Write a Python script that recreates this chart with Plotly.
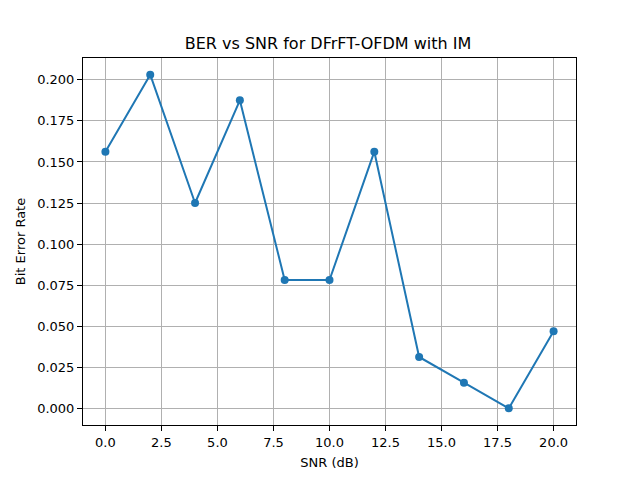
import numpy as np
import plotly.graph_objects as go

# data
snr_db = [0, 2, 4, 6, 8, 10, 12, 14, 16, 18, 20]
ber = [0.15625, 0.203125, 0.125, 0.1875, 0.078125, 0.078125,
       0.15625, 0.03125, 0.015625, 0.0, 0.046875]

x_ticks = list(np.arange(0, 20.01, 2.5))
y_ticks = list(np.arange(0, 0.2001, 0.025))

# page body has an 8px margin, so the figure is shrunk to fit the window
FIG_W, FIG_H = 624, 472


def make_figure():
    fig = go.Figure()
    fig.add_trace(
        go.Scatter(
            x=snr_db,
            y=ber,
            mode="lines+markers",
            line=dict(color="#1f77b4", width=2),
            marker=dict(color="#1f77b4", size=8),
            showlegend=False,
        )
    )

    # matplotlib-like 5% margins
    x_pad = 0.05 * (max(snr_db) - min(snr_db))
    y_pad = 0.05 * (max(ber) - min(ber))

    axis_style = dict(
        showline=True,
        linecolor="black",
        linewidth=1,
        mirror=True,
        showgrid=True,
        gridcolor="#b0b0b0",
        gridwidth=1,
        zeroline=False,
        ticks="outside",
        ticklen=5,
        tickcolor="black",
        tickfont=dict(size=13, color="black"),
    )

    fig.update_layout(
        width=FIG_W,
        height=FIG_H,
        margin=dict(l=72, r=56, t=50, b=52),
        paper_bgcolor="white",
        plot_bgcolor="white",
        font=dict(family="DejaVu Sans", color="black"),
        title=dict(
            text="BER vs SNR for DFrFT-OFDM with IM",
            x=0.5 * (72 + 568) / FIG_W * FIG_W / FIG_W,
            xanchor="center",
            y=1 - 35 / FIG_H,
            yanchor="middle",
            font=dict(size=16),
        ),
        xaxis=dict(
            range=[min(snr_db) - x_pad, max(snr_db) + x_pad],
            tickvals=x_ticks,
            ticktext=[f"{v:.1f}" for v in x_ticks],
            title=dict(text="SNR (dB)", font=dict(size=13), standoff=9),
            **axis_style,
        ),
        yaxis=dict(
            range=[min(ber) - y_pad, max(ber) + y_pad],
            tickvals=y_ticks,
            ticktext=[f"{v:.3f}" for v in y_ticks],
            title=dict(text="Bit Error Rate", font=dict(size=13), standoff=8),
            **axis_style,
        ),
    )
    return fig


fig = make_figure()
fig.write_html("out.html")
